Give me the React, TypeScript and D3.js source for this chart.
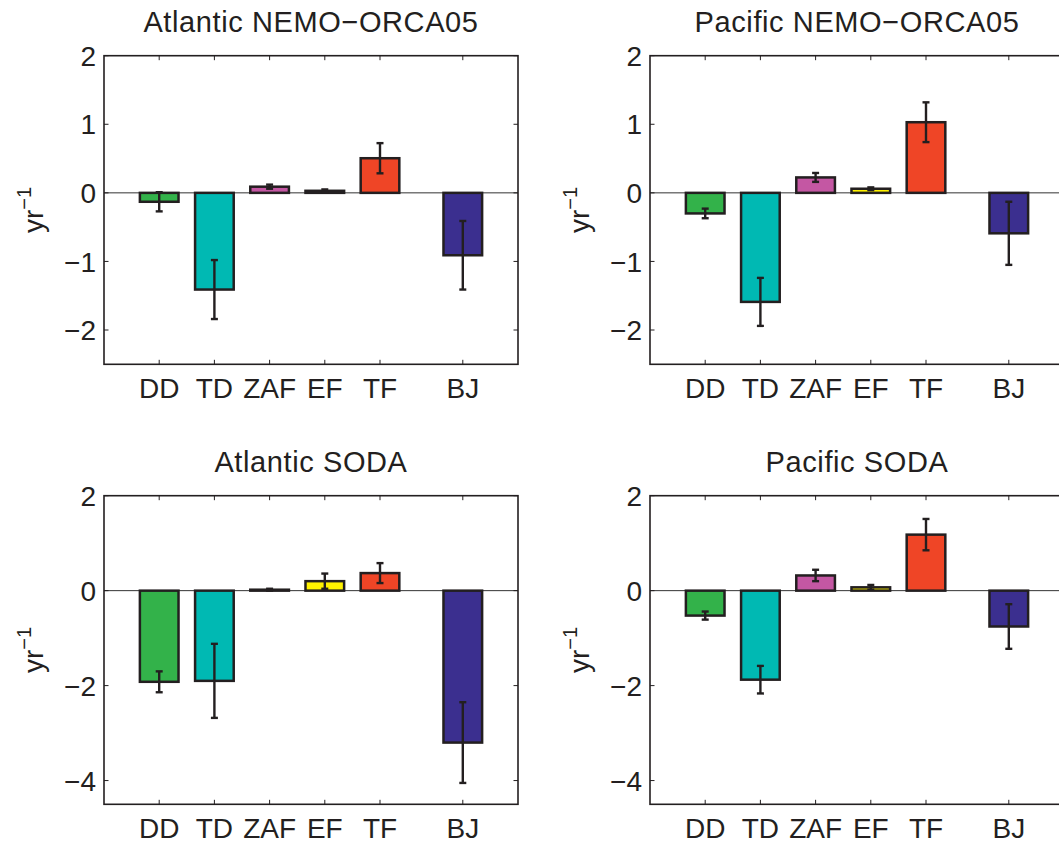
import React from 'react';
import * as d3 from 'd3';

const categories = ['DD', 'TD', 'ZAF', 'EF', 'TF', 'BJ'];
const positions = [1, 2, 3, 4, 5, 6.5];
const barColors = ['#33b24a', '#00b9b3', '#c457a3', '#fff200', '#ef4526', '#3b2f8f'];

const titles = ['Atlantic NEMO\u2212ORCA05', 'Pacific NEMO\u2212ORCA05', 'Atlantic SODA', 'Pacific SODA'];

const atlNemoValues = [-0.13, -1.41, 0.09, 0.03, 0.505, -0.91];
const atlNemoErrors = [0.14, 0.43, 0.03, 0.02, 0.22, 0.5];
const pacNemoValues = [-0.3, -1.59, 0.225, 0.06, 1.03, -0.59];
const pacNemoErrors = [0.07, 0.35, 0.065, 0.02, 0.29, 0.46];
const atlSodaValues = [-1.92, -1.9, 0.02, 0.2, 0.37, -3.2];
const atlSodaErrors = [0.22, 0.78, 0.02, 0.16, 0.21, 0.85];
const pacSodaValues = [-0.525, -1.875, 0.32, 0.07, 1.18, -0.755];
const pacSodaErrors = [0.085, 0.29, 0.12, 0.05, 0.33, 0.47];

const topYTicks = [-2, -1, 0, 1, 2];
const bottomYTicks = [-4, -2, 0, 2];
const topYDomain = [-2.5, 2];
const bottomYDomain = [-4.5, 2];
const xDomain = [0, 7.5];

const FONT = '"Liberation Sans", Arial, Helvetica, sans-serif';
const INK = '#231f20';

type PanelProps = {
  left: number;
  top: number;
  width: number;
  height: number;
  yDomain: number[];
  yTicks: number[];
  title: string;
  values: number[];
  errors: number[];
};

function fmt(v: number) {
  return v < 0 ? '\u2212' + Math.abs(v) : String(v);
}

function Panel({ left, top, width, height, yDomain, yTicks, title, values, errors }: PanelProps) {
  const x = d3.scaleLinear().domain(xDomain).range([left, left + width]);
  const y = d3.scaleLinear().domain(yDomain).range([top + height, top]);
  const barW = x(0.7) - x(0);
  const tickLen = 4.5;
  const cap = 3.5;
  const bottom = top + height;
  const right = left + width;
  return (
    <g>
      <text x={left + width / 2} y={top - 24} textAnchor="middle" fontFamily={FONT} fontSize={29} letterSpacing={0.6} fill={INK}>
        {title}
      </text>
      {/* zero line */}
      <line x1={left} x2={right} y1={y(0)} y2={y(0)} stroke="#333" strokeWidth={1} />
      {/* bars */}
      {values.map((v, i) => (
        <rect
          key={'b' + i}
          x={x(positions[i]) - barW / 2}
          y={Math.min(y(v), y(0))}
          width={barW}
          height={Math.abs(y(v) - y(0))}
          fill={barColors[i]}
          stroke={INK}
          strokeWidth={2.5}
        />
      ))}
      {/* error bars */}
      {values.map((v, i) => {
        const cx = x(positions[i]);
        const y1 = y(v + errors[i]);
        const y2 = y(v - errors[i]);
        return (
          <g key={'e' + i} stroke={INK} strokeWidth={2.4}>
            <line x1={cx} x2={cx} y1={y1} y2={y2} />
            <line x1={cx - cap} x2={cx + cap} y1={y1} y2={y1} />
            <line x1={cx - cap} x2={cx + cap} y1={y2} y2={y2} />
          </g>
        );
      })}
      {/* axes box */}
      <rect x={left} y={top} width={width} height={height} fill="none" stroke={INK} strokeWidth={1.6} />
      {/* y ticks */}
      {yTicks.map((t) => (
        <g key={'y' + t}>
          <line x1={left} x2={left + tickLen} y1={y(t)} y2={y(t)} stroke={INK} strokeWidth={1} />
          <line x1={right} x2={right - tickLen} y1={y(t)} y2={y(t)} stroke={INK} strokeWidth={1} />
          <text x={left - 8} y={y(t)} dy="0.36em" textAnchor="end" fontFamily={FONT} fontSize={28} fill={INK}>
            {fmt(t)}
          </text>
        </g>
      ))}
      {/* x ticks */}
      {positions.map((p, i) => (
        <g key={'x' + i}>
          <line x1={x(p)} x2={x(p)} y1={bottom} y2={bottom - tickLen} stroke={INK} strokeWidth={1} />
          <line x1={x(p)} x2={x(p)} y1={top} y2={top + tickLen} stroke={INK} strokeWidth={1} />
          <text x={x(p)} y={bottom + 33.5} textAnchor="middle" fontFamily={FONT} fontSize={28} fill={INK}>
            {categories[i]}
          </text>
        </g>
      ))}
      {/* y label */}
      <text
        transform={`translate(${left - 61},${top + height / 2}) rotate(-90)`}
        textAnchor="middle"
        fontFamily={FONT}
        fontSize={28}
        fill={INK}
      >
        yr
        <tspan fontSize={20} dy={-12}>{'\u22121'}</tspan>
      </text>
    </g>
  );
}

export default function App() {
  const W = 414;
  const Htop = 308.6;
  const panels = [
    { left: 104, top: 55.7, yDomain: topYDomain, yTicks: topYTicks, values: atlNemoValues, errors: atlNemoErrors },
    { left: 650, top: 55.7, yDomain: topYDomain, yTicks: topYTicks, values: pacNemoValues, errors: pacNemoErrors },
    { left: 104, top: 495.7, yDomain: bottomYDomain, yTicks: bottomYTicks, values: atlSodaValues, errors: atlSodaErrors },
    { left: 650, top: 495.7, yDomain: bottomYDomain, yTicks: bottomYTicks, values: pacSodaValues, errors: pacSodaErrors },
  ];
  return (
    <svg
      width={1059}
      height={844}
      style={{ position: 'absolute', left: 0, top: 0, background: '#fff' }}
    >
      <rect width={1059} height={844} fill="#fff" />
      {panels.map((p, i) => (
        <Panel
          key={i}
          left={p.left}
          top={p.top}
          width={W}
          height={Htop}
          yDomain={p.yDomain}
          yTicks={p.yTicks}
          title={titles[i]}
          values={p.values}
          errors={p.errors}
        />
      ))}
    </svg>
  );
}
